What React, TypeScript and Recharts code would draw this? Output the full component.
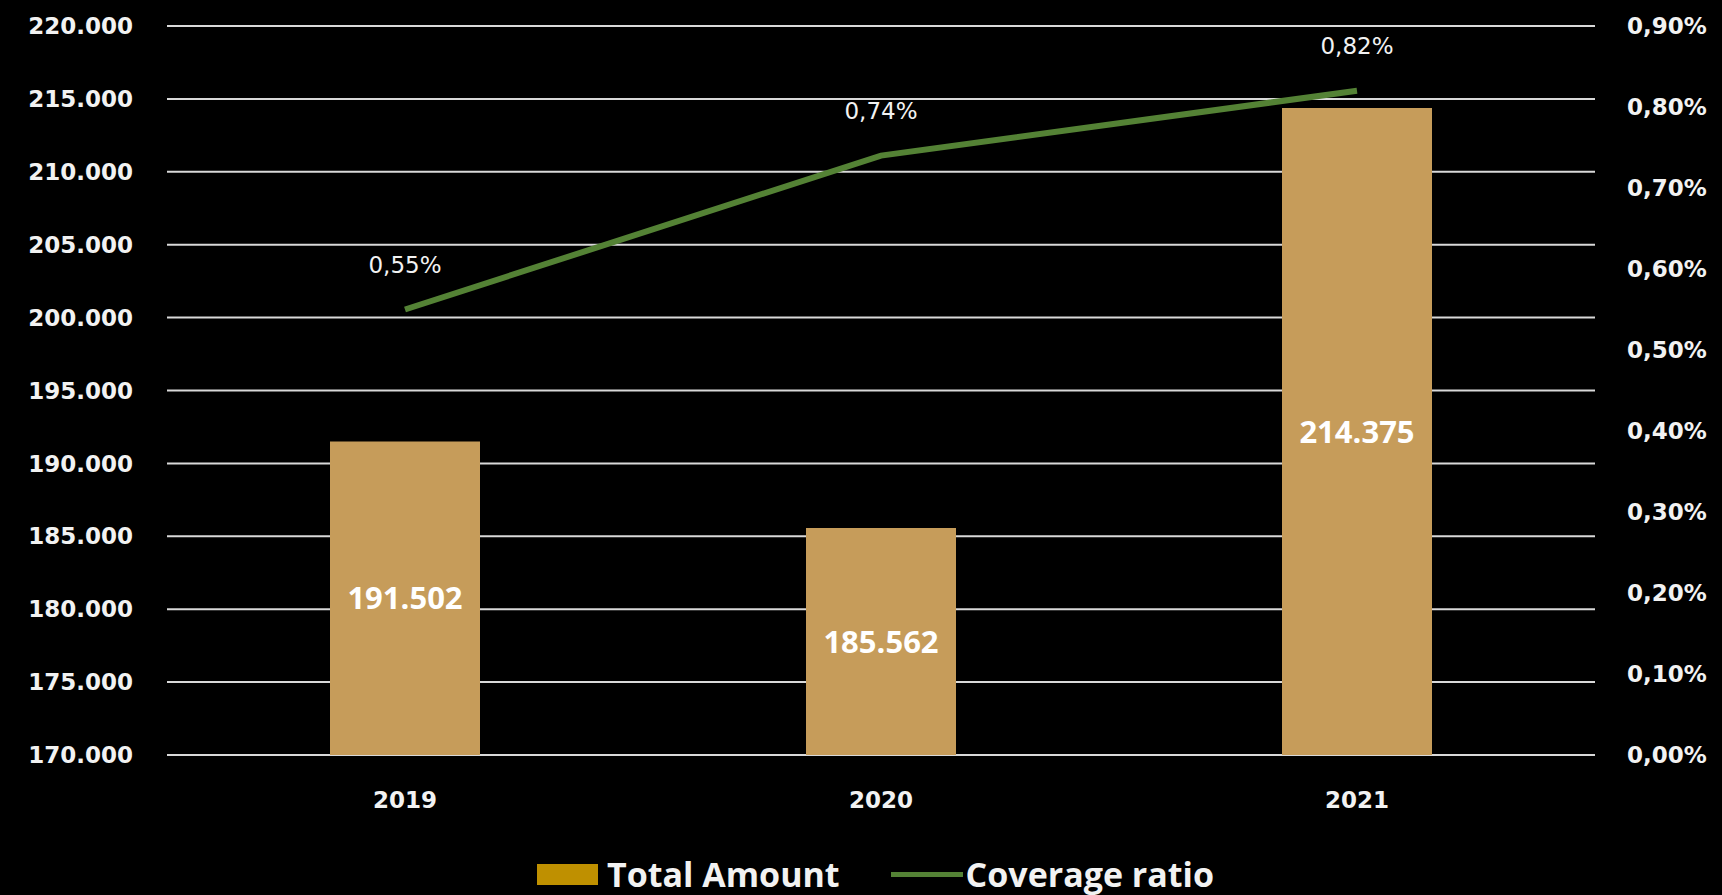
import { ComposedChart, Bar, Line, XAxis, YAxis, CartesianGrid, LabelList, Legend } from "recharts"

const years = ["2019", "2020", "2021"]
const totalAmount = [191502, 185562, 214375]
const coverageRatio = [0.55, 0.74, 0.82]
const leftTicks = [170000, 175000, 180000, 185000, 190000, 195000, 200000, 205000, 210000, 215000, 220000]
const rightTicks = [0, 0.1, 0.2, 0.3, 0.4, 0.5, 0.6, 0.7, 0.8, 0.9]
const seriesNames = ["Total Amount", "Coverage ratio"]

const data = years.map((year, i) => ({ year, amount: totalAmount[i], ratio: coverageRatio[i] }))

const BAR_COLOR = "#c69c5a"
const LEGEND_BAR = "#bf9000"
const LINE_COLOR = "#548235"
const AXIS_FONT = "'DejaVu Sans', sans-serif"

const fmtThousands = (v: number) => String(Math.round(v)).replace(/\B(?=(\d{3})+(?!\d))/g, ".")
const fmtPct = (v: number) => `${v.toFixed(2).replace(".", ",")}%`

const tickStyle = { fill: "#f2f2f2", fontFamily: AXIS_FONT, fontWeight: 700, fontSize: 23 }

function LegendContent() {
  return (
    <div
      style={{
        display: "flex",
        alignItems: "center",
        paddingLeft: 537,
        fontFamily: "'Open Sans', sans-serif",
        fontWeight: 700,
        fontSize: 34,
        color: "#f2f2f2",
        lineHeight: "40px",
      }}
    >
      <span style={{ display: "inline-block", width: 61, height: 21, background: LEGEND_BAR, marginRight: 9 }} />
      <span>{seriesNames[0]}</span>
      <span style={{ display: "inline-block", width: 72, height: 5, background: LINE_COLOR, marginLeft: 51, marginRight: 3 }} />
      <span>{seriesNames[1]}</span>
    </div>
  )
}

export default function App() {
  return (
    <div style={{ position: "absolute", left: 0, top: 0, width: 1722, height: 895, background: "#000" }}>
      <ComposedChart width={1722} height={895} data={data} margin={{ top: 26, right: 0, bottom: 0, left: 0 }}>
        <CartesianGrid yAxisId="left" vertical={false} stroke="#d9d9d9" strokeWidth={2} />
        <XAxis
          dataKey="year"
          axisLine={false}
          tickLine={false}
          tickSize={0}
          tickMargin={37}
          height={140}
          tick={tickStyle}
        />
        <YAxis
          yAxisId="left"
          domain={[170000, 220000]}
          ticks={leftTicks}
          tickFormatter={fmtThousands}
          axisLine={false}
          tickLine={false}
          tickSize={0}
          tickMargin={34}
          width={167}
          tick={tickStyle}
          allowDataOverflow
        />
        <YAxis
          yAxisId="right"
          orientation="right"
          domain={[0, 0.9]}
          ticks={rightTicks}
          tickFormatter={fmtPct}
          axisLine={false}
          tickLine={false}
          tickSize={0}
          tickMargin={32}
          width={127}
          tick={{ ...tickStyle, textAnchor: "start" }}
        />
        <Bar yAxisId="left" dataKey="amount" name={seriesNames[0]} fill={BAR_COLOR} barSize={150} isAnimationActive={false}>
          <LabelList
            dataKey="amount"
            position="center"
            formatter={(v: number) => fmtThousands(v)}
            fill="#ffffff"
            style={{ fontFamily: "'Open Sans', sans-serif", fontWeight: 700, fontSize: 31 }}
          />
        </Bar>
        <Line
          yAxisId="right"
          dataKey="ratio"
          name={seriesNames[1]}
          stroke={LINE_COLOR}
          strokeWidth={6}
          dot={false}
          activeDot={false}
          isAnimationActive={false}
        >
          <LabelList
            dataKey="ratio"
            position="top"
            offset={37}
            formatter={(v: number) => fmtPct(v)}
            fill="#f2f2f2"
            style={{ fontFamily: AXIS_FONT, fontWeight: 400, fontSize: 23 }}
          />
        </Line>
        <Legend
          layout="horizontal"
          verticalAlign="middle"
          align="center"
          content={<LegendContent />}
          wrapperStyle={{ top: 854, left: 0, width: 1722 }}
        />
      </ComposedChart>
    </div>
  )
}
